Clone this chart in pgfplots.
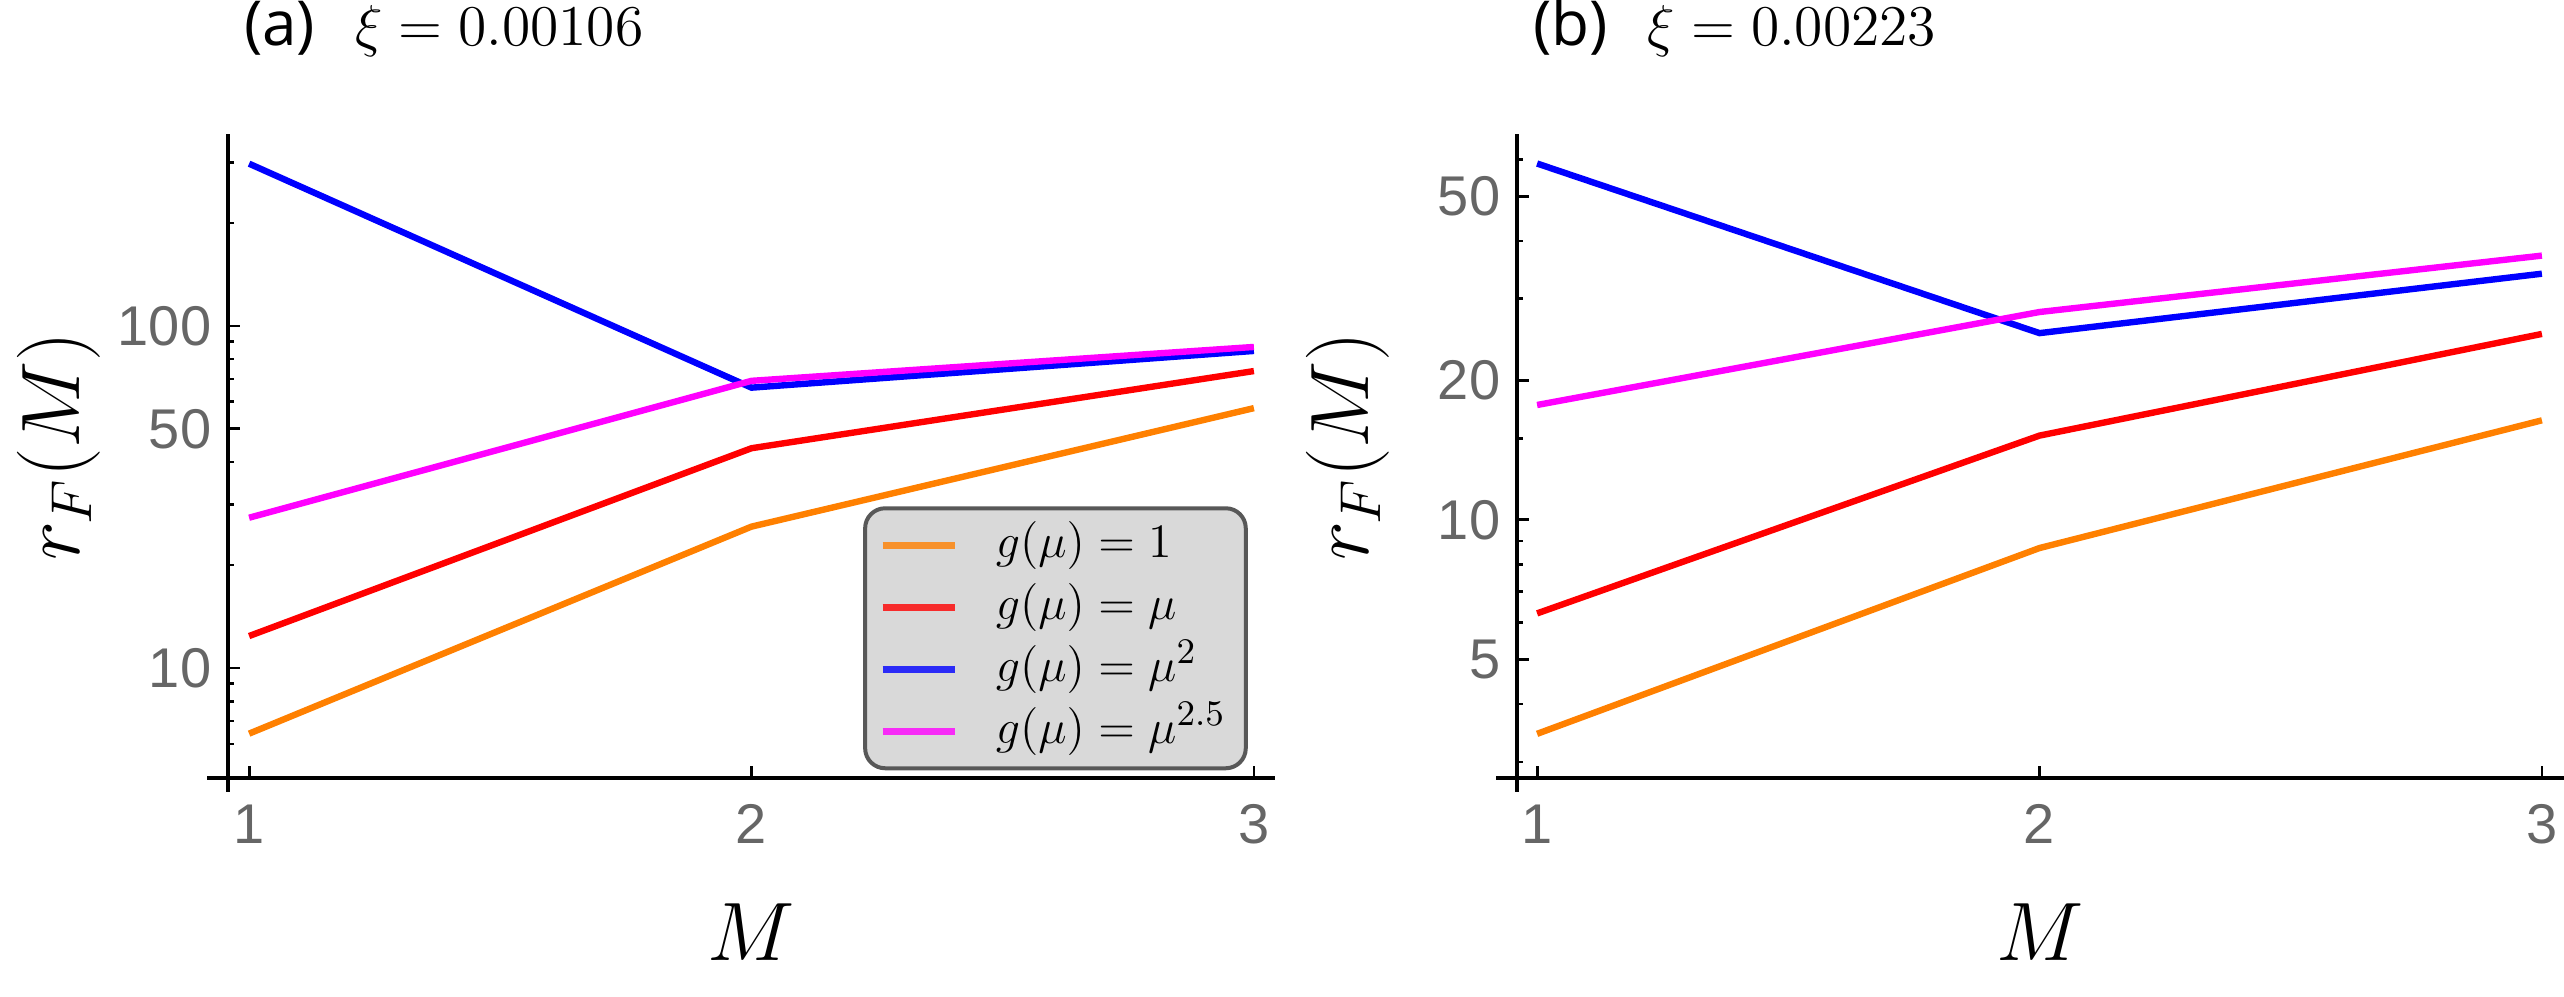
\documentclass[border=0pt]{standalone}
\usepackage{fontspec}
\usepackage{pgfplots}
\pgfplotsset{compat=1.18}
\newfontfamily\tickfont{Liberation Sans}
\newfontfamily\titlefont{Open Sans}
\definecolor{cOrange}{RGB}{255,128,0}
\definecolor{cRed}{RGB}{255,0,0}
\definecolor{cBlue}{RGB}{0,0,255}
\definecolor{cMag}{RGB}{255,0,255}
\definecolor{tickgray}{RGB}{102,102,102}
\definecolor{legfill}{RGB}{217,217,217}
\definecolor{legdraw}{RGB}{88,88,88}

\pgfplotstableread{
M  orange red   blue  mag
1  6.43   12.4  298   27.5
2  25.9   43.9  66.0  69.1
3  57.5   73.8  84.5  86.8
}\dataA
\pgfplotstableread{
M  orange red   blue  mag
1  3.45   6.28  58.8  17.7
2  8.69   15.2  25.3  28.1
3  16.4   25.2  34.0  37.2
}\dataB

\begin{document}
\begin{tikzpicture}
\useasboundingbox (0,0) rectangle (641pt,249.25pt);
% left panel
\begin{axis}[at={(57pt,54.75pt)}, anchor=south west,
  scale only axis, width=261.75pt, height=161pt,
  ymode=log, axis lines=left, axis line style={-, line width=0.8pt},
  tick align=inside,
  xtick={1,2,3}, xticklabels={1,2,3},
  major tick length=3pt, minor tick length=1.5pt,
  every tick/.style={black, line width=0.7pt},
  tick label style={font=\tickfont\fontsize{14}{14}\selectfont, text=tickgray},
  xticklabel style={inner sep=0pt, anchor=north, yshift=-6.5pt},
  yticklabel style={inner sep=0pt, anchor=east, xshift=-4pt},
  xlabel={$M$}, ylabel={$r_F(M)$},
  label style={font=\fontsize{20.5}{24}\selectfont},
  x label style={at={(rel axis cs:0.5,0)}, anchor=center, yshift=-38.5pt},
  y label style={at={(rel axis cs:-0.162,0.515)}, anchor=center, rotate=0},
  title style={at={(rel axis cs:0,1)}, anchor=base west, yshift=16pt, xshift=0.5pt},
  clip=false,
  xmin=0.958, xmax=3.042, ymin=4.77, ymax=364,
  ytick={10,50,100}, yticklabels={10,50,100},
  minor ytick={6,7,8,9,20,30,40,60,70,80,90,200,300},
  title={{\titlefont\fontsize{15.5}{18}\selectfont (a)}\hspace{10pt}{\fontsize{15.5}{18}\selectfont$\xi = 0.00106$}},
  legend style={at={(rel axis cs:0.974,0.012)}, anchor=south east,
    fill=legfill, draw=legdraw, line width=1pt, rounded corners=5pt,
    inner xsep=3.5pt, inner ysep=1.5pt,
    font=\fontsize{12.5}{14}\selectfont,
    row sep=0pt,
    nodes={inner sep=1.5pt, text height=9.25pt, text depth=3.25pt},
    /tikz/every odd column/.append style={column sep=8pt}},
  legend cell align=left,
  legend image code/.code={\draw[#1, line width=1.7pt, opacity=0.8] (0pt,0pt) -- (18pt,0pt);},
]
\addplot[cOrange, line width=1.6pt] table[x=M, y=orange] {\dataA};
\addlegendentry{$g(\mu) = 1$}
\addplot[cRed, line width=1.6pt] table[x=M, y=red] {\dataA};
\addlegendentry{$g(\mu) = \mu$}
\addplot[cBlue, line width=1.6pt] table[x=M, y=blue] {\dataA};
\addlegendentry{$g(\mu) = \mu^{2}$}
\addplot[cMag, line width=1.6pt] table[x=M, y=mag] {\dataA};
\addlegendentry{$g(\mu) = \mu^{2.5}$}
\draw[line width=0.8pt] (rel axis cs:0,0) -- ++(-5.25pt,0pt);
\draw[line width=0.8pt] (rel axis cs:0,0) -- ++(0pt,-3.5pt);
\end{axis}
% right panel
\begin{axis}[at={(379.25pt,54.75pt)}, anchor=south west,
  scale only axis, width=261.75pt, height=161pt,
  ymode=log, axis lines=left, axis line style={-, line width=0.8pt},
  tick align=inside,
  xtick={1,2,3}, xticklabels={1,2,3},
  major tick length=3pt, minor tick length=1.5pt,
  every tick/.style={black, line width=0.7pt},
  tick label style={font=\tickfont\fontsize{14}{14}\selectfont, text=tickgray},
  xticklabel style={inner sep=0pt, anchor=north, yshift=-6.5pt},
  yticklabel style={inner sep=0pt, anchor=east, xshift=-4pt},
  xlabel={$M$}, ylabel={$r_F(M)$},
  label style={font=\fontsize{20.5}{24}\selectfont},
  x label style={at={(rel axis cs:0.5,0)}, anchor=center, yshift=-38.5pt},
  y label style={at={(rel axis cs:-0.162,0.515)}, anchor=center, rotate=0},
  title style={at={(rel axis cs:0,1)}, anchor=base west, yshift=16pt, xshift=0.5pt},
  clip=false,
  xmin=0.96, xmax=3.044, ymin=2.77, ymax=68.1,
  ytick={5,10,20,50}, yticklabels={5,10,20,50},
  minor ytick={3,4,6,7,8,9,15,30,40,60},
  title={{\titlefont\fontsize{15.5}{18}\selectfont (b)}\hspace{10pt}{\fontsize{15.5}{18}\selectfont$\xi = 0.00223$}},
]
\addplot[cOrange, line width=1.6pt] table[x=M, y=orange] {\dataB};
\addplot[cRed, line width=1.6pt] table[x=M, y=red] {\dataB};
\addplot[cBlue, line width=1.6pt] table[x=M, y=blue] {\dataB};
\addplot[cMag, line width=1.6pt] table[x=M, y=mag] {\dataB};
\draw[line width=0.8pt] (rel axis cs:0,0) -- ++(-5.25pt,0pt);
\draw[line width=0.8pt] (rel axis cs:0,0) -- ++(0pt,-3.5pt);
\end{axis}
\end{tikzpicture}
\end{document}
